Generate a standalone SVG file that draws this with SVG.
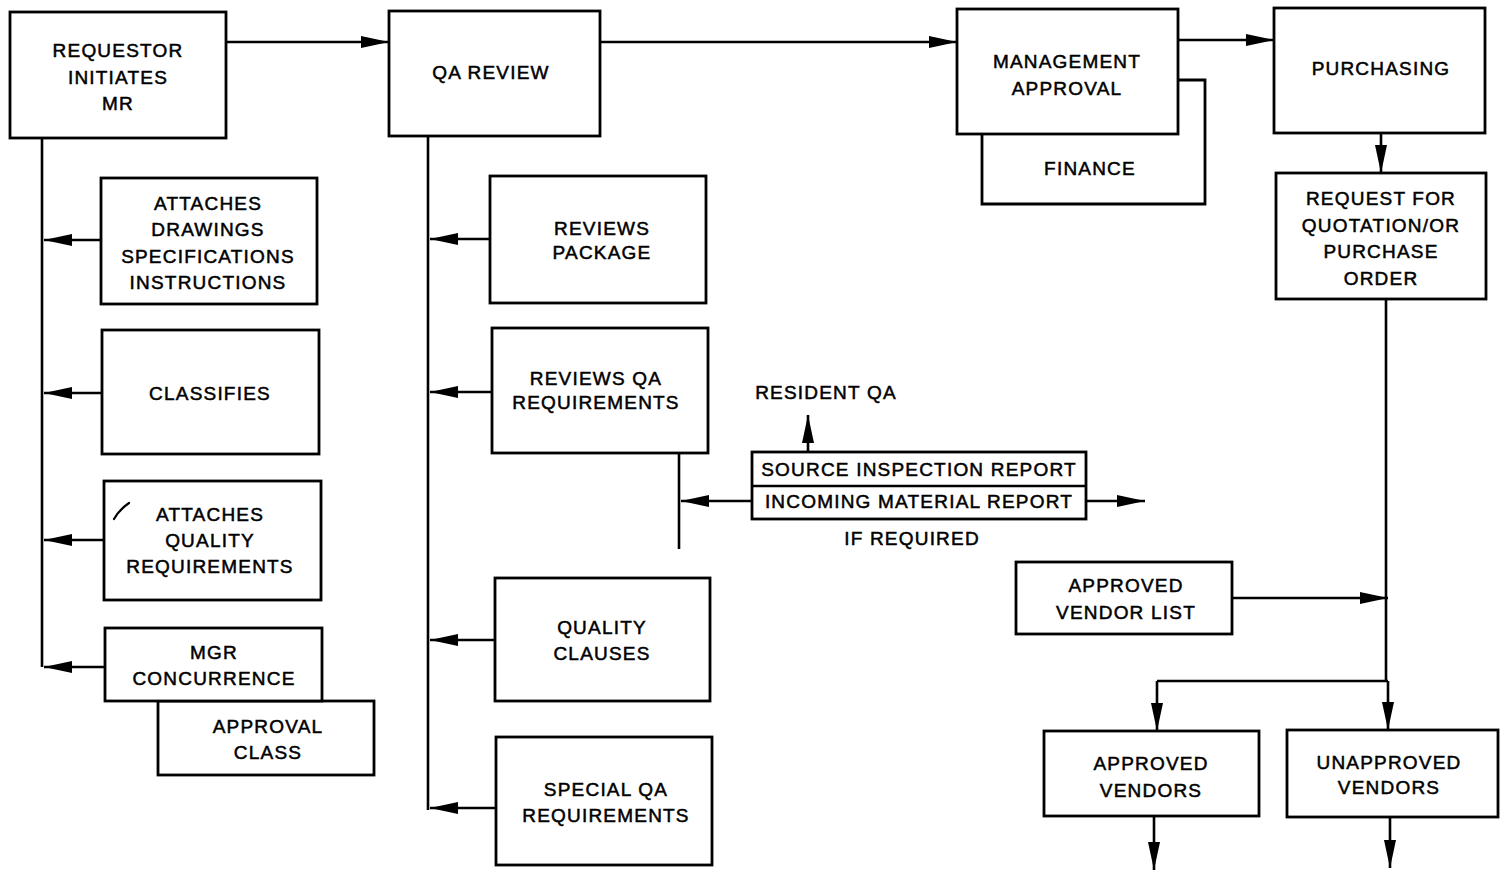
<svg xmlns="http://www.w3.org/2000/svg" width="1501" height="872" viewBox="0 0 1501 872">
  <defs>
    <marker id="arrow" markerUnits="userSpaceOnUse" markerWidth="30" markerHeight="14" refX="28" refY="7" orient="auto">
      <path d="M0,1 L28,7 L0,13 z" fill="#000"/>
    </marker>
    <style>
      .box { fill: #fff; stroke: #000; stroke-width: 2.8; }
      .line { fill: none; stroke: #000; stroke-width: 2.6; }
      .arr { fill: none; stroke: #000; stroke-width: 2.6; marker-end: url(#arrow); }
      text { font-family: "Liberation Sans", Arial, sans-serif; font-size: 19px; letter-spacing: 1.2px; fill: #000; stroke: #000; stroke-width: 0.5; text-anchor: middle; }
    </style>
  </defs>
  <rect width="1501" height="872" fill="#fff"/>

  <!-- connectors -->
  <g id="connectors">
    <path class="arr" d="M226,42 H389"/>
    <path class="arr" d="M600,42 H957"/>
    <path class="arr" d="M1178,40 H1274"/>
    <path class="arr" d="M1381,133 V173"/>
    <path class="line" d="M1386,299 V681"/>
    <path class="arr" d="M1232,598 H1388"/>
    <path class="line" d="M1157,681 H1388"/>
    <path class="arr" d="M1157,681 V731"/>
    <path class="arr" d="M1388,681 V730"/>
    <path class="arr" d="M1154,816 V870"/>
    <path class="arr" d="M1390,817 V868"/>

    <!-- requestor spine -->
    <path class="line" d="M42,138 V667"/>
    <path class="arr" d="M101,240 H44"/>
    <path class="arr" d="M102,393 H44"/>
    <path class="arr" d="M104,540 H44"/>
    <path class="arr" d="M105,667 H44"/>

    <!-- QA review spine -->
    <path class="line" d="M428,136 V810"/>
    <path class="arr" d="M490,239 H430"/>
    <path class="arr" d="M492,392 H430"/>
    <path class="arr" d="M495,640 H430"/>
    <path class="arr" d="M496,808 H430"/>

    <!-- report branch -->
    <path class="line" d="M679,453 V549"/>
    <path class="arr" d="M752,501 H681"/>
    <path class="arr" d="M808,452 V415"/>
    <path class="arr" d="M1086,501 H1145"/>
  </g>

  <g id="requestor">
    <rect class="box" x="10" y="12" width="216" height="126"/>
    <text x="118" y="57">REQUESTOR</text>
    <text x="118" y="84">INITIATES</text>
    <text x="118" y="110">MR</text>
  </g>

  <g id="qa-review">
    <rect class="box" x="389" y="11" width="211" height="125"/>
    <text x="491" y="79">QA REVIEW</text>
  </g>

  <g id="finance">
    <path class="box" d="M982,134 V204 H1205 V80 H1178"/>
    <text x="1090" y="175">FINANCE</text>
  </g>

  <g id="management-approval">
    <rect class="box" x="957" y="9" width="221" height="125"/>
    <text x="1067" y="68">MANAGEMENT</text>
    <text x="1067" y="95">APPROVAL</text>
  </g>

  <g id="purchasing">
    <rect class="box" x="1274" y="8" width="211" height="125"/>
    <text x="1381" y="75">PURCHASING</text>
  </g>

  <g id="request-quotation">
    <rect class="box" x="1276" y="173" width="210" height="126"/>
    <text x="1381" y="205">REQUEST FOR</text>
    <text x="1381" y="232">QUOTATION/OR</text>
    <text x="1381" y="258">PURCHASE</text>
    <text x="1381" y="285">ORDER</text>
  </g>

  <g id="approved-vendor-list">
    <rect class="box" x="1016" y="562" width="216" height="72"/>
    <text x="1126" y="592">APPROVED</text>
    <text x="1126" y="619">VENDOR LIST</text>
  </g>

  <g id="approved-vendors">
    <rect class="box" x="1044" y="731" width="215" height="85"/>
    <text x="1151" y="770">APPROVED</text>
    <text x="1151" y="797">VENDORS</text>
  </g>

  <g id="unapproved-vendors">
    <rect class="box" x="1287" y="730" width="211" height="87"/>
    <text x="1389" y="769">UNAPPROVED</text>
    <text x="1389" y="794">VENDORS</text>
  </g>

  <g id="attaches-drawings">
    <rect class="box" x="101" y="178" width="216" height="126"/>
    <text x="208" y="210">ATTACHES</text>
    <text x="208" y="236">DRAWINGS</text>
    <text x="208" y="263">SPECIFICATIONS</text>
    <text x="208" y="289">INSTRUCTIONS</text>
  </g>

  <g id="classifies">
    <rect class="box" x="102" y="330" width="217" height="124"/>
    <text x="210" y="400">CLASSIFIES</text>
  </g>

  <g id="attaches-quality">
    <rect class="box" x="104" y="481" width="217" height="119"/>
    <!-- small pen tick in the corner -->
    <path d="M114,519 Q119,510 129,503" fill="none" stroke="#000" stroke-width="2.2" stroke-linecap="round"/>
    <text x="210" y="521">ATTACHES</text>
    <text x="210" y="547">QUALITY</text>
    <text x="210" y="573">REQUIREMENTS</text>
  </g>

  <g id="approval-class">
    <rect class="box" x="158" y="701" width="216" height="74"/>
    <text x="268" y="733">APPROVAL</text>
    <text x="268" y="759">CLASS</text>
  </g>

  <g id="mgr-concurrence">
    <rect class="box" x="105" y="628" width="217" height="73"/>
    <text x="214" y="659">MGR</text>
    <text x="214" y="685">CONCURRENCE</text>
  </g>

  <g id="reviews-package">
    <rect class="box" x="490" y="176" width="216" height="127"/>
    <text x="602" y="235">REVIEWS</text>
    <text x="602" y="259">PACKAGE</text>
  </g>

  <g id="reviews-qa-requirements">
    <rect class="box" x="492" y="328" width="216" height="125"/>
    <text x="596" y="385">REVIEWS QA</text>
    <text x="596" y="409">REQUIREMENTS</text>
  </g>

  <g id="reports">
    <rect class="box" x="752" y="452" width="334" height="67"/>
    <path class="line" d="M752,486 H1086"/>
    <text x="919" y="476">SOURCE INSPECTION REPORT</text>
    <text x="919" y="508">INCOMING MATERIAL REPORT</text>
  </g>

  <g id="resident-qa">
    <text x="826" y="399">RESIDENT QA</text>
  </g>

  <g id="if-required">
    <text x="912" y="545">IF REQUIRED</text>
  </g>

  <g id="quality-clauses">
    <rect class="box" x="495" y="578" width="215" height="123"/>
    <text x="602" y="634">QUALITY</text>
    <text x="602" y="660">CLAUSES</text>
  </g>

  <g id="special-qa-requirements">
    <rect class="box" x="496" y="737" width="216" height="128"/>
    <text x="606" y="796">SPECIAL QA</text>
    <text x="606" y="822">REQUIREMENTS</text>
  </g>
</svg>
